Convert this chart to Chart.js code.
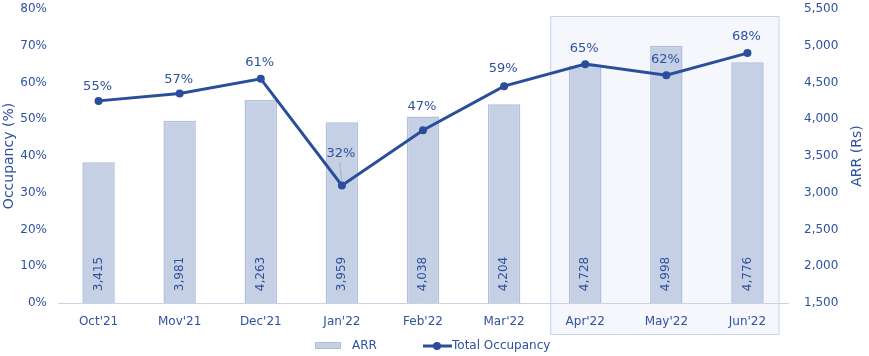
<!DOCTYPE html>
<html><head><meta charset="utf-8">
<script src="https://cdn.jsdelivr.net/npm/chart.js@4.4.0/dist/chart.umd.min.js"></script>
<style>html,body{margin:0;padding:0;background:#fff;}#wrap{width:869px;height:356px;position:relative;}</style>
</head><body><div id="wrap"><canvas id="c" width="869" height="356"></canvas></div>
<script>
const categories = ["Oct'21","Mov'21","Dec'21","Jan'22","Feb'22","Mar'22","Apr'22","May'22","Jun'22"];
const arrValues = [3415,3981,4263,3959,4038,4204,4728,4998,4776];
const occupancyValues = [55,57,61,32,47,59,65,62,68];
const leftTicks = [0,10,20,30,40,50,60,70,80];
const rightTicks = [1500,2000,2500,3000,3500,4000,4500,5000,5500];
const highlightFrom = 6, highlightTo = 8;

const TXT = '#2E51A0';
const LINE = '#2A4D9C';
const BARFILL = '#C6D0E4';
const BARBORDER = '#AFBFDD';
const FONT = 'DejaVu Sans';

const labelOffsets = [14,14,16,32,24,18,16,16,16];

const highlightPlugin = {
  id:'highlight',
  beforeDraw(chart){
    const {ctx, scales:{x}, chartArea} = chart;
    const l = x.getPixelForValue(highlightFrom) - 35;
    const r = x.getPixelForValue(highlightTo) + 31;
    const t = chartArea.top + 7;
    ctx.save();
    ctx.fillStyle = '#F5F7FC';
    ctx.strokeStyle = '#C8D3EA';
    ctx.lineWidth = 1;
    ctx.fillRect(l, t, r - l, 334 - t);
    ctx.strokeRect(l + 0.5, t + 0.5, r - l, 334 - t);
    ctx.restore();
  }
};

const labelsPlugin = {
  id:'labels',
  afterDatasetsDraw(chart){
    const ctx = chart.ctx;
    const barMeta = chart.getDatasetMeta(0);
    const lineMeta = chart.getDatasetMeta(1);
    ctx.save();
    ctx.fillStyle = TXT;
    ctx.font = '12px ' + FONT;
    barMeta.data.forEach((b,i)=>{
      ctx.save();
      ctx.translate(b.x, 274);
      ctx.rotate(-Math.PI/2);
      ctx.textAlign='center'; ctx.textBaseline='middle';
      ctx.fillText(arrValues[i].toLocaleString('en-US'), 0, 0);
      ctx.restore();
    });
    ctx.font = '13px ' + FONT;
    lineMeta.data.forEach((p,i)=>{
      const off = labelOffsets[i];
      ctx.textAlign='center'; ctx.textBaseline='middle';
      if (off > 28) {
        ctx.strokeStyle = '#9FB0D6'; ctx.lineWidth = 1;
        ctx.beginPath(); ctx.moveTo(p.x-2, p.y - off + 9); ctx.lineTo(p.x, p.y - 4); ctx.stroke();
      }
      ctx.fillText(occupancyValues[i] + '%', p.x - 1, p.y - off);
    });
    ctx.restore();
  }
};

const legendPlugin = {
  id:'customLegend',
  afterDraw(chart){
    const ctx = chart.ctx;
    const ca = chart.chartArea;
    ctx.save();
    ctx.fillStyle = TXT; ctx.font = '14px ' + FONT;
    ctx.translate(857, (ca.top + ca.bottom)/2);
    ctx.rotate(-Math.PI/2);
    ctx.textAlign='center'; ctx.textBaseline='middle';
    ctx.fillText('ARR (Rs)', 0, 0);
    ctx.restore();
    ctx.save();
    ctx.fillStyle = BARFILL; ctx.strokeStyle = BARBORDER; ctx.lineWidth=1;
    ctx.fillRect(315, 342, 26, 7);
    ctx.strokeRect(315.5, 342.5, 25, 6);
    ctx.fillStyle = TXT; ctx.font = '12px ' + FONT;
    ctx.textBaseline='middle'; ctx.textAlign='left';
    ctx.fillText('ARR', 352, 346);
    ctx.strokeStyle = LINE; ctx.lineWidth = 3;
    ctx.beginPath(); ctx.moveTo(423,346); ctx.lineTo(452,346); ctx.stroke();
    ctx.fillStyle = LINE; ctx.beginPath(); ctx.arc(437,346,4,0,Math.PI*2); ctx.fill();
    ctx.fillStyle = TXT;
    ctx.fillText('Total Occupancy', 452, 346);
    ctx.restore();
  }
};

new Chart(document.getElementById('c'), {
  data:{
    labels: categories,
    datasets:[
      {type:'bar', label:'ARR', data: arrValues, yAxisID:'y1', backgroundColor: BARFILL, borderColor: BARBORDER, borderWidth:1.5, barPercentage:0.4, categoryPercentage:1, order:1},
      {type:'line', label:'Total Occupancy', data: occupancyValues, yAxisID:'y', borderColor: LINE, backgroundColor: LINE, borderWidth:3, pointRadius:4, pointBackgroundColor: LINE, pointBorderWidth:0, tension:0, order:0}
    ]
  },
  options:{
    responsive:false, animation:false,
    layout:{padding:{top:9, left:0, right:0, bottom:0}},
    plugins:{legend:{display:false}, tooltip:{enabled:false}},
    scales:{
      x:{
        grid:{display:false, drawTicks:false},
        border:{display:true, color:'#C8D2E8', width:1},
        ticks:{color:TXT, font:{family:FONT, size:12}, padding:12, maxRotation:0},
        afterFit(s){ s.height = 53; s.paddingLeft = 0; s.paddingRight = 0; }
      },
      y:{
        position:'left', min:0, max:80,
        afterBuildTicks(s){ s.ticks = leftTicks.map(v=>({value:v})); },
        grid:{display:false, drawTicks:false},
        border:{display:false},
        ticks:{color:TXT, font:{family:FONT, size:12}, padding:11, callback:v=>v+'%'},
        title:{display:true, text:'Occupancy (%)', color:TXT, font:{family:FONT, size:14}, padding:{top:1,bottom:1}},
        afterFit(s){ s.width = 58; s.paddingTop = 0; s.paddingBottom = 0; }
      },
      y1:{
        position:'right', min:1500, max:5500,
        afterBuildTicks(s){ s.ticks = rightTicks.map(v=>({value:v})); },
        grid:{display:false, drawTicks:false},
        border:{display:false},
        ticks:{color:TXT, font:{family:FONT, size:12}, padding:16, callback:v=>v.toLocaleString('en-US')},
        afterFit(s){ s.width = 81; s.paddingTop = 0; s.paddingBottom = 0; }
      }
    }
  },
  plugins:[highlightPlugin, labelsPlugin, legendPlugin]
});
</script></body></html>
